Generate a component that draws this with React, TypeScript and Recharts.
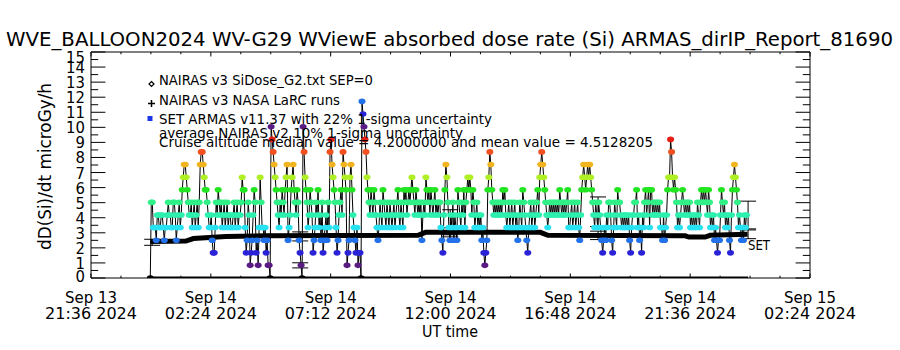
import { ComposedChart, ErrorBar, Line, ReferenceArea, Scatter, XAxis, YAxis } from 'recharts'

const FONT = "'DejaVu Sans Condensed', 'DejaVu Sans', 'Liberation Sans Narrow', sans-serif"

// plot frame in page pixels
const PLOT = { left: 91, right: 810, top: 52, bottom: 278 }

// x axis: hours after Sep 13 21:36 UT
const xTicks = [0, 1.2, 2.4, 3.6, 4.8, 6, 7.2, 8.4, 9.6, 10.8, 12, 13.2, 14.4, 15.6, 16.8, 18, 19.2, 20.4, 21.6, 22.8, 24, 25.2, 26.4, 27.6, 28.8]
const xTickDays = ['Sep 13', 'Sep 14', 'Sep 14', 'Sep 14', 'Sep 14', 'Sep 14', 'Sep 15']
const xTickTimes = ['21:36 2024', '02:24 2024', '07:12 2024', '12:00 2024', '16:48 2024', '21:36 2024', '02:24 2024']

const yTicks = [0, 0.5, 1, 1.5, 2, 2.5, 3, 3.5, 4, 4.5, 5, 5.5, 6, 6.5, 7, 7.5, 8, 8.5, 9, 9.5, 10, 10.5, 11, 11.5, 12, 12.5, 13, 13.5, 14, 14.5, 15]

// ARMAS quantised dose levels (microGy/h) and their colour table
const doseLevels = [0, 0.84, 1.67, 2.51, 3.35, 4.18, 5.02, 5.86, 6.69, 7.53, 8.37, 9.2, 10.04, 10.88, 11.72]
const levelColors = ['#000000', '#5a1a84', '#2a22d6', '#2472ea', '#28e2f2', '#2cf0b0', '#30f088', '#22e622', '#aef024', '#f2b41e', '#f25020', '#e81e16', '#5a1a84', '#2a22d6', '#2472ea']

// SET ARMAS samples (index into doseLevels), one every 0.04 h
const armasStart = 2.375
const armasStep = 0.04
const armasLevel = [
  0, 6, 6, 4, 4, 4, 3, 5, 5, 4,
  4, 5, 5, 4, 3, 4, 4, 5, 6, 5,
  5, 4, 4, 6, 6, 5, 3, 4, 5, 6,
  4, 5, 7, 8, 9, 9, 8, 7, 6, 5,
  5, 6, 4, 5, 6, 4, 5, 6, 4, 6,
  9, 10, 10, 9, 8, 7, 7, 6, 5, 4,
  4, 5, 3, 2, 2, 4, 6, 5, 7, 6,
  5, 6, 4, 5, 6, 4, 5, 6, 4, 5,
  5, 4, 4, 5, 6, 4, 5, 6, 4, 5,
  5, 6, 8, 7, 7, 4, 2, 3, 6, 5,
  1, 2, 3, 5, 7, 6, 2, 3, 1, 4,
  8, 6, 4, 4, 3, 4, 2, 3, 1, 1,
  0, 12, 11, 10, 9, 8, 7, 6, 5, 4,
  6, 5, 7, 6, 5, 7, 8, 9, 3, 4,
  5, 7, 8, 9, 7, 6, 5, 7, 6, 3,
  2, 1, 0, 12, 10, 8, 7, 6, 4, 5,
  7, 6, 5, 2, 3, 4, 6, 5, 7, 4,
  5, 3, 6, 2, 3, 4, 5, 3, 6, 4,
  10, 11, 9, 8, 7, 6, 4, 2, 3, 5,
  6, 7, 5, 10, 9, 8, 7, 1, 2, 3,
  8, 9, 7, 5, 4, 3, 2, 4, 1, 2,
  2, 0, 14, 13, 12, 11, 10, 8, 7, 6,
  5, 7, 6, 5, 7, 6, 5, 4, 3, 4,
  6, 5, 4, 7, 6, 5, 4, 6, 5, 4,
  6, 5, 4, 5, 6, 4, 5, 6, 7, 5,
  4, 6, 5, 4, 7, 6, 7, 5, 6, 7,
  6, 7, 8, 7, 6, 5, 7, 6, 5, 6,
  5, 6, 3, 5, 6, 5, 8, 7, 6, 7,
  5, 7, 6, 5, 6, 7, 5, 6, 5, 6,
  6, 4, 3, 2, 5, 7, 9, 8, 6, 4,
  3, 5, 4, 6, 3, 5, 4, 3, 7, 6,
  5, 4, 6, 5, 7, 4, 6, 7, 8, 7,
  8, 7, 5, 7, 6, 4, 5, 6, 4, 5,
  4, 5, 3, 4, 2, 1, 2, 3, 7, 8,
  10, 9, 7, 6, 5, 6, 5, 6, 5, 6,
  5, 6, 5, 7, 6, 7, 5, 4, 5, 6,
  4, 5, 6, 4, 5, 6, 4, 5, 3, 4,
  6, 5, 4, 7, 6, 5, 4, 3, 2, 4,
  5, 6, 4, 5, 6, 4, 5, 6, 7, 5,
  8, 9, 10, 9, 8, 7, 6, 5, 4, 5,
  6, 5, 6, 5, 6, 5, 6, 5, 6, 5,
  7, 6, 5, 6, 5, 6, 5, 6, 7, 4,
  4, 5, 6, 4, 5, 6, 4, 5, 6, 4,
  3, 5, 7, 8, 9, 8, 7, 8, 9, 8,
  9, 8, 7, 6, 5, 4, 6, 5, 4, 6,
  5, 4, 3, 2, 3, 4, 3, 5, 4, 6,
  6, 5, 3, 2, 4, 6, 5, 4, 7, 6,
  6, 5, 4, 5, 4, 5, 4, 5, 4, 5,
  3, 2, 4, 5, 5, 6, 6, 7, 4, 5,
  3, 4, 2, 5, 4, 6, 7, 5, 6, 7,
  4, 7, 7, 5, 6, 5, 6, 5, 6, 5,
  6, 4, 4, 3, 5, 3, 4, 5, 7, 8,
  8, 11, 10, 8, 7, 8, 7, 6, 4, 5,
  4, 5, 6, 7, 6, 5, 6, 5, 6, 5,
  6, 4, 5, 4, 5, 4, 5, 4, 6, 5,
  4, 6, 7, 6, 7, 6, 7, 6, 5, 7,
  6, 4, 5, 4, 5, 3, 4, 3, 2, 3,
  3, 5, 7, 6, 5, 6, 4, 5, 4, 5,
  3, 2, 5, 7, 8, 9, 8, 7, 6, 4,
  5, 4, 3, 4, 3, 5, 4, 5,
]

// NAIRAS v3 NASA LaRC model
const nairasTimes = [2.375, 3.8, 4.1, 5.4, 7.0, 13.1, 13.4, 18.0, 18.3, 23.8, 23.95, 24.6, 24.8, 26.3]
const nairasDose = [2.42, 2.45, 2.62, 2.76, 2.8, 2.83, 3.03, 3.03, 2.83, 2.8, 2.72, 2.72, 2.83, 2.9]

// NAIRAS SiDose SEP contribution
const sepTimes = [2.375, 26.32]
const sepDose = [0, 0]

// uncertainty bars
const errTimes = [2.45, 8.38, 8.38, 14.39, 14.39, 20.31, 20.31, 26.32, 26.32]
const errCenter = [2.37, 2.76, 0.84, 3.7, 3.03, 4.4, 2.83, 4.18, 2.9]
const errHalf = [0.2, 0.3, 0.17, 0.83, 0.3, 0.98, 0.28, 0.92, 0.29]

const armasData = armasLevel.map((k, i) => ({ t: armasStart + i * armasStep, v: doseLevels[k], k }))
const nairasData = nairasTimes.map((t, i) => ({ t, v: nairasDose[i] }))
const sepData = sepTimes.map((t, i) => ({ t, v: sepDose[i] }))
const errData = errTimes.map((t, i) => ({ t, v: errCenter[i], e: errHalf[i] }))

function ArmasDot(props: any) {
  const { cx, cy, payload, index } = props
  if (cx == null || cy == null) return <g key={`a${index}`} />
  return <ellipse key={`a${index}`} cx={cx} cy={cy} rx={3.5} ry={2.8} fill={levelColors[payload.k]} />
}

function XTick(props: any) {
  const { x, payload } = props
  const idx = xTicks.findIndex((t) => Math.abs(t - payload.value) < 1e-6)
  const major = idx % 4 === 0
  const len = major ? 4.5 : 2.3
  const m = idx / 4
  return (
    <g>
      <line x1={x} x2={x} y1={PLOT.bottom} y2={PLOT.bottom - len} stroke='#000' />
      <line x1={x} x2={x} y1={PLOT.top} y2={PLOT.top + len} stroke='#000' />
      {major && (
        <text fontFamily={FONT} fontSize={16} fill='#000' textAnchor='middle'>
          <tspan x={x} y={303} textLength={52} lengthAdjust='spacingAndGlyphs'>{xTickDays[m]}</tspan>
          <tspan x={x} y={319} textLength={92} lengthAdjust='spacingAndGlyphs'>{xTickTimes[m]}</tspan>
        </text>
      )}
    </g>
  )
}

function YTick(props: any) {
  const { y, payload } = props
  const v = payload.value
  const major = Number.isInteger(v)
  const len = major ? 14.4 : 7.2
  const shift = v === 0 ? -2.5 : v === 15 ? 4.5 : 0
  return (
    <g>
      <line x1={PLOT.left} x2={PLOT.left + len} y1={y} y2={y} stroke='#000' />
      <line x1={PLOT.right} x2={PLOT.right - len} y1={y} y2={y} stroke='#000' />
      {major && (
        <text x={85} y={y + 6 + shift} fontFamily={FONT} fontSize={16.5} fill='#000' textAnchor='end'>
          {v}
        </text>
      )}
    </g>
  )
}

const txt = { fontFamily: FONT, fill: '#000' }

export default function App() {
  return (
    <div style={{ position: 'absolute', left: 0, top: 0, width: 900, height: 350, background: '#fff' }}>
      <ComposedChart
        width={900}
        height={350}
        margin={{ top: PLOT.top, right: 900 - PLOT.right, bottom: 350 - PLOT.bottom - 40, left: PLOT.left - 60 }}
      >
        <XAxis
          dataKey='t'
          type='number'
          domain={[0, 28.8]}
          ticks={xTicks}
          interval={0}
          height={40}
          axisLine={false}
          tickLine={false}
          tick={<XTick />}
          allowDataOverflow
        />
        <YAxis
          yAxisId='left'
          type='number'
          domain={[0, 15]}
          ticks={yTicks}
          interval={0}
          width={60}
          axisLine={false}
          tickLine={false}
          tick={<YTick />}
          allowDataOverflow
        />
        <ReferenceArea yAxisId='left' x1={0} x2={28.8} y1={0} y2={15} fill='none' stroke='#000' strokeWidth={1} ifOverflow='visible' />
        <Line
          yAxisId='left'
          data={armasData}
          dataKey='v'
          type='linear'
          stroke='#000'
          strokeWidth={1}
          dot={ArmasDot}
          activeDot={false}
          isAnimationActive={false}
        />
        <Line
          yAxisId='left'
          data={nairasData}
          dataKey='v'
          type='linear'
          stroke='#000'
          strokeWidth={5}
          dot={false}
          activeDot={false}
          isAnimationActive={false}
        />
        <Line
          yAxisId='left'
          data={sepData}
          dataKey='v'
          type='linear'
          stroke='#000'
          strokeWidth={3}
          dot={false}
          activeDot={false}
          isAnimationActive={false}
        />
        <Scatter yAxisId='left' data={errData} dataKey='v' shape={() => <g />} isAnimationActive={false}>
          <ErrorBar dataKey='e' direction='y' width={8} stroke='#000' strokeWidth={1} isAnimationActive={false} />
        </Scatter>
      </ComposedChart>
      <svg width={900} height={350} style={{ position: 'absolute', left: 0, top: 0, pointerEvents: 'none' }}>
        <text x={6} y={46} fontSize={19} textLength={887} lengthAdjust='spacingAndGlyphs' {...txt}>
          WVE_BALLOON2024 WV-G29 WViewE absorbed dose rate (Si) ARMAS_dirIP_Report_81690
        </text>
        <text transform='translate(51,166.5) rotate(-90)' fontSize={17} textAnchor='middle' textLength={167} lengthAdjust='spacingAndGlyphs' {...txt}>
          dD(Si)/dt microGy/h
        </text>
        <text x={450} y={337} fontSize={16} textAnchor='middle' textLength={56} lengthAdjust='spacingAndGlyphs' {...txt}>
          UT time
        </text>
        <polygon points='151.5,81.5 154,84 151.5,86.5 149,84' fill='none' stroke='#000' strokeWidth={1.2} />
        <text x={159} y={85} fontSize={13.5} textLength={214} lengthAdjust='spacingAndGlyphs' {...txt}>
          NAIRAS v3 SiDose_G2.txt SEP=0
        </text>
        <path d='M148,103.5 H155 M151.5,100 V107' stroke='#000' strokeWidth={1.5} />
        <text x={159} y={105} fontSize={13.5} textLength={181} lengthAdjust='spacingAndGlyphs' {...txt}>
          NAIRAS v3 NASA LaRC runs
        </text>
        <rect x={147.5} y={116} width={5} height={5} fill='#1a36e6' />
        <text x={159} y={123.5} fontSize={13.5} textLength={333} lengthAdjust='spacingAndGlyphs' {...txt}>
          SET ARMAS v11.37 with 22% 1-sigma uncertainty
        </text>
        <text x={159} y={137.5} fontSize={13.5} textLength={304} lengthAdjust='spacingAndGlyphs' {...txt}>
          average NAIRAS v2 10% 1-sigma uncertainty
        </text>
        <text x={159} y={146.5} fontSize={13.5} textLength={494} lengthAdjust='spacingAndGlyphs' {...txt}>
          Cruise altitude median value = 4.2000000 and mean value = 4.5128205
        </text>
        <text x={748} y={250} fontSize={14} textLength={22} lengthAdjust='spacingAndGlyphs' {...txt}>
          SET
        </text>
      </svg>
    </div>
  )
}
